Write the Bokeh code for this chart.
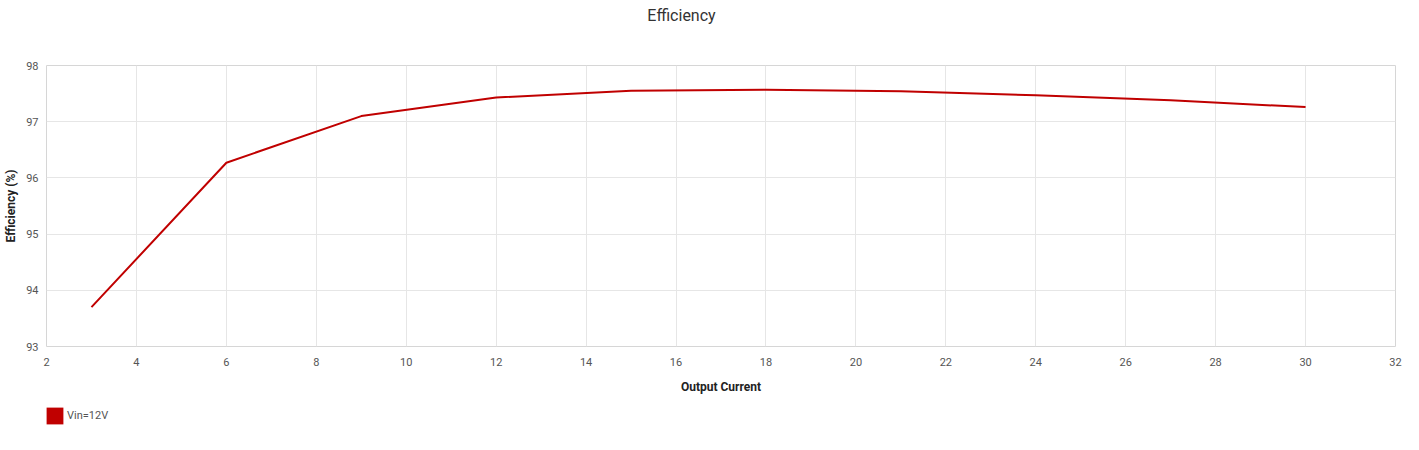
from bokeh.plotting import figure
from bokeh.layouts import column
from bokeh.models import Range1d, FixedTicker, Legend, LegendItem, ColumnDataSource, Label
from bokeh.embed import file_html
from bokeh.resources import INLINE

# data
currents = [3, 6, 9, 12, 15, 18, 21, 24, 27, 30]
eff_vin12 = [93.70, 96.27, 97.10, 97.43, 97.55, 97.57, 97.54, 97.47, 97.38, 97.26]
series_name = "Vin=12V"
chart_title = "Efficiency"
x_ticks = list(range(2, 33, 2))
y_ticks = [93, 94, 95, 96, 97, 98]

RED = "#c00000"
FONT = "Roboto"
W = 1419
HEAD_H, MAIN_H, FOOT_H = 60, 336, 54


def strip(h):
    f = figure(width=W, height=h, x_range=Range1d(0, 1), y_range=Range1d(0, 1),
               x_axis_type=None, y_axis_type=None,
               output_backend="svg", toolbar_location=None,
               min_border_left=0, min_border_right=0, min_border_top=0, min_border_bottom=0)
    f.outline_line_color = None
    f.background_fill_color = "white"
    f.border_fill_color = "white"
    return f


# header with the title (column aligns its frame with the chart's frame)
head = strip(HEAD_H)
head.add_layout(Label(x=635, y=45, x_units="screen", y_units="screen",
                      text=chart_title, text_align="center", text_baseline="middle",
                      text_font=FONT, text_font_size="16px", text_color="#333333"))

# main chart
p = figure(width=W, height=MAIN_H,
           x_range=Range1d(2, 32), y_range=Range1d(93, 98),
           output_backend="svg", toolbar_location=None,
           min_border_left=46, min_border_right=24, min_border_top=5, min_border_bottom=50)

src = ColumnDataSource(dict(x=currents, y=eff_vin12))
p.line("x", "y", source=src, line_color=RED, line_width=2)

for ax in (p.xaxis[0], p.yaxis[0]):
    ax.axis_line_color = None
    ax.major_tick_line_color = None
    ax.minor_tick_line_color = None
    ax.major_label_text_font = FONT
    ax.major_label_text_font_size = "11px"
    ax.major_label_text_color = "#555555"
    ax.axis_label_text_font = FONT
    ax.axis_label_text_font_size = "12px"
    ax.axis_label_text_font_style = "bold"
    ax.axis_label_text_color = "#222222"

p.xaxis[0].ticker = FixedTicker(ticks=x_ticks)
p.yaxis[0].ticker = FixedTicker(ticks=y_ticks)
p.xaxis[0].axis_label = "Output Current"
p.yaxis[0].axis_label = "Efficiency (%)"
p.xaxis[0].major_label_standoff = 5
p.xaxis[0].axis_label_standoff = 11
p.yaxis[0].major_label_standoff = 2
p.yaxis[0].axis_label_standoff = 5

p.xgrid.grid_line_color = "#e6e6e6"
p.ygrid.grid_line_color = "#e6e6e6"
p.outline_line_color = "#d6d6d6"
p.background_fill_color = "white"
p.border_fill_color = "white"

# footer with the legend
foot = strip(FOOT_H)
fsrc = ColumnDataSource(dict(x=currents, y=eff_vin12))
# zero-area quads (outside the strip's range): they only give the legend its filled swatch
swatch = foot.quad(left="x", right="x", top="y", bottom="y", source=fsrc,
                   fill_color=RED, line_color=None)
legend = Legend(items=[LegendItem(label=series_name, renderers=[swatch])],
                location=(-2, 24), orientation="horizontal",
                glyph_width=21, glyph_height=21, label_height=21,
                label_text_font=FONT, label_text_font_size="11px",
                label_text_color="#555555", label_standoff=2,
                padding=0, margin=0, spacing=0,
                border_line_color=None, background_fill_alpha=0)
foot.add_layout(legend)

layout = column(head, p, foot, spacing=0)
open("out.html", "w").write(file_html(layout, INLINE))
